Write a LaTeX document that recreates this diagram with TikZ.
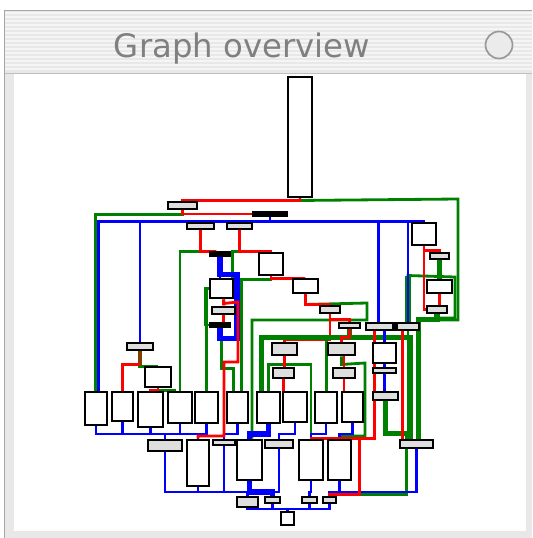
\documentclass[tikz,border=0pt]{standalone}
\usepackage{fontspec}
\newfontfamily\titlefont{DejaVu Sans}
\usepackage{tikz}
\usetikzlibrary{fit, backgrounds}
\pgfdeclarelayer{edges}
\pgfsetlayers{background,edges,main}
\definecolor{edgered}{RGB}{255,0,0}
\definecolor{edgegreen}{RGB}{0,128,0}
\definecolor{edgeblue}{RGB}{0,0,255}

\begin{document}
\begin{tikzpicture}[x=0.05cm, y=-0.05cm,
    blk/.style={draw=black, line width=4.2pt, fill=white, inner sep=0pt},
    sblk/.style={blk, fill=black!13},
    bar/.style={blk, fill=black},
    re/.style={draw=edgered, line width=4pt},
    ge/.style={draw=edgegreen, line width=4pt},
    be/.style={draw=edgeblue, line width=4pt},
    fat/.style={line width=7.5pt}]
  \useasboundingbox (0,0) rectangle (532,538);

  % window frame
  \begin{scope}[on background layer]
    \fill[white] (0,0) rectangle (532,538);
    \fill[black!9] (4,10) rectangle (532,538);
    \foreach \s in {12,16,...,68} \fill[black!4] (5,\s) rectangle (532,\s+2);
    \draw[black!35, line width=1.4pt] (4.5,538) -- (4.5,10.5) -- (532,10.5);
    \draw[black!25, line width=1.4pt] (5,73) -- (532,73);
    \fill[white] (14,74) rectangle (526,531);
  \end{scope}
  \node[text=black!50, font=\titlefont\fontsize{46}{50}\selectfont, anchor=base] (title) at (242,58) {Graph overview};
  \node[circle, draw=black!40, fill=black!8, line width=2.4pt, minimum size=1.35cm] (btn) at (499,45) {};

  % blocks
  \node[blk, fit={(288,77) (312,197)}] (top) {};
  \node[sblk, fit={(168,202) (197,209)}] (a) {};
  \node[bar, fit={(253,212) (287,216)}] (bar1) {};
  \node[sblk, fit={(187,223) (214,229)}] (b) {};
  \node[sblk, fit={(227,223) (252,229)}] (c) {};
  \node[bar, fit={(210,252) (230,256)}] (bar2) {};
  \node[blk, fit={(259,253) (283,275)}] (d) {};
  \node[blk, fit={(210,279) (233,298)}] (e) {};
  \node[sblk, fit={(212,307) (235,314)}] (f) {};
  \node[bar, fit={(210,323) (230,327)}] (bar3) {};
  \node[sblk, fit={(127,343) (153,350)}] (h) {};
  \node[blk, fit={(145,367) (171,387)}] (z) {};
  \node[blk, fit={(412,223) (436,245)}] (i) {};
  \node[sblk, fit={(430,253) (449,259)}] (j) {};
  \node[blk, fit={(427,280) (452,293)}] (k) {};
  \node[sblk, fit={(427,306) (447,313)}] (l) {};
  \node[blk, fit={(293,279) (318,293)}] (m) {};
  \node[sblk, fit={(320,306) (340,313)}] (n) {};
  \node[sblk, fit={(339,323) (360,328)}] (o) {};
  \node[sblk, fit={(366,323) (393,330)}] (p) {};
  \node[bar, fit={(393,323) (397,330)}] (pq) {};
  \node[sblk, fit={(397,323) (419,330)}] (q) {};
  \node[sblk, fit={(272,343) (297,355)}] (r) {};
  \node[sblk, fit={(328,343) (355,355)}] (s) {};
  \node[blk, fit={(373,343) (396,363)}] (t) {};
  \node[sblk, fit={(273,368) (294,378)}] (u) {};
  \node[sblk, fit={(333,368) (355,378)}] (v) {};
  \node[sblk, fit={(373,368) (396,373)}] (w) {};
  \node[sblk, fit={(373,392) (398,400)}] (xb) {};
  \node[blk, fit={(85,392) (107,425)}] (t1) {};
  \node[blk, fit={(112,392) (133,421)}] (t2) {};
  \node[blk, fit={(138,392) (163,427)}] (t3) {};
  \node[blk, fit={(168,392) (192,423)}] (t4) {};
  \node[blk, fit={(195,392) (218,423)}] (t5) {};
  \node[blk, fit={(227,392) (248,423)}] (t6) {};
  \node[blk, fit={(257,392) (280,423)}] (t7) {};
  \node[blk, fit={(283,392) (307,422)}] (t8) {};
  \node[blk, fit={(315,392) (337,423)}] (t9) {};
  \node[blk, fit={(342,392) (363,422)}] (t10) {};
  \node[sblk, fit={(148,440) (182,451)}] (l1) {};
  \node[blk, fit={(187,440) (209,486)}] (l2) {};
  \node[sblk, fit={(213,440) (235,445)}] (l3) {};
  \node[blk, fit={(237,440) (262,480)}] (l4) {};
  \node[sblk, fit={(265,440) (293,448)}] (l5) {};
  \node[blk, fit={(299,440) (323,480)}] (l6) {};
  \node[blk, fit={(328,440) (351,480)}] (l7) {};
  \node[sblk, fit={(400,440) (433,448)}] (yb) {};
  \node[sblk, fit={(237,497) (258,507)}] (b1) {};
  \node[sblk, fit={(265,497) (280,503)}] (b2) {};
  \node[sblk, fit={(302,497) (317,503)}] (b3) {};
  \node[sblk, fit={(323,497) (336,503)}] (b4) {};
  \node[blk, fit={(281,512) (294,525)}] (b5) {};

  \coordinate (bus) at (0,434);
  \coordinate (lowbus) at (0,492);
  \coordinate (botbus) at (0,509);

  \begin{pgfonlayer}{edges}
  \draw[re] (n.south) -- ++(0,25) -| (r.north);
  % green edges
  \draw[ge] (top.south) -- ++(0,2) -- (458,199) -- (458,320) -| (l.south);
  \draw[ge] (a.south) -- ++(0,4) -| ([xshift=-1]t1.north);
  \draw[ge] (b.south) -- ++(0,21) -| (t4.north);
  \draw[ge] (c.south) -- ++(0,21) -- ++(-7,0) -- ++(0,28) -| ([xshift=6]t6.north);
  \draw[ge] (d.south) -- ++(0,3) -| ([xshift=6]t6.north);
  \draw[ge] (e.west) -- ++(-3,0) |- (bar3.west);
  \draw[ge] (e.west) -- ++(-3,0) -| (t5.north);
  \draw[ge] ([xshift=2]bar3.south) -- ++(0,40) -| ([xshift=-6]t6.north);
  \draw[ge, line width=5.5pt] (h.south) -- ++(0,15) -| (z.north);
  \draw[ge] (z.south) -- ++(0,2) -| ([xshift=-8]t4.north);
  \draw[ge, fat] (j.south) -- (j.south |- k.north);
  \draw[ge] (q.north) -- ++(0,-46) -- (455,277) -- (455,318) -| (l.south);
  \draw[ge, fat] (q.north) -- ++(0,-46);
  \draw[ge, fat] (l.south) -- ++(0,5) -| ([xshift=3]yb.north);
  \draw[ge] (q.south) -- (q.south |- yb.north);
  \draw[ge] (m.south) -- ++(0,10) -- (367,303) -- (367,320) -| ([xshift=3.5]l4.north);
  \draw[ge, fat] (o.south) -- ++(0,8) -| ([xshift=-10]t7.north);
  \draw[ge, fat] (o.south) -- ++(0,8) -| ([xshift=-9]yb.north);
  \draw[ge] (o.south) -- ++(0,8) -| ([xshift=1]t9.north);
  \draw[ge] (r.south) -- ++(0,8) -| (t7.north);
  \draw[ge] (r.south) -- ++(0,8) -| (l6.north);
  \draw[ge] (s.south) -- ++(0,8) -- (365,363) -- (365,436) -| (l7.north);
  \draw[ge, fat] (xb.south) -- ++(0,32) -| ([xshift=-12]yb.north);
  \draw[ge] ([xshift=-14]yb.south) -- ++(0,45) -| ([xshift=3]b4.north);
  % blue edges
  \draw[be] (bar1.south) -- ++(0,4) -| ([xshift=3]t1.north);
  \draw[be] (bar1.south) -- ++(0,4) -| (h.north);
  \draw[be] (bar1.south) -- ++(0,4) -| (i.north);
  \draw[be] (bar1.south) -- ++(0,4) -| ([xshift=-1]p.north);
  \draw[be] (bar1.south) -- ++(0,4) -| (q.north);
  \draw[be] (bar2.south) -- (bar2.south |- e.north);
  \draw[be, fat] (bar2.south) -- ++(0,17) -- ++(17,0) -- ++(0,64) -| (bar3.south);
  \draw[be] (t.north |- p.south) -- (t.north);
  \draw[be] (t.south) -- (t.south |- w.north);
  \draw[be] (w.south) -- (w.south |- xb.north);
  \draw[be] (t1.south) -- (t1.south |- bus) -| (l1.north);
  \draw[be] (t2.south) -- (t2.south |- bus) -| (l1.north);
  \draw[be] (t3.south) -- (t3.south |- bus) -| (l2.north);
  \draw[be] (t4.south) -- (t4.south |- bus) -| (l1.north);
  \draw[be] (t5.south) -- (t5.south |- bus) -| (l2.north);
  \draw[be] (t6.south) -- (t6.south |- bus) -| (l3.north);
  \draw[be, fat] (t7.south) -- (t7.south |- bus) -| (l4.north);
  \draw[be] (t8.south) -- (t8.south |- bus) -| (l5.north);
  \draw[be] (t9.south) -- (t9.south |- bus) -| (l6.north);
  \draw[be] (t10.south) -- (t10.south |- bus) -| (l7.north);
  \draw[be] (l1.south) -- (l1.south |- lowbus) -| (b1.north);
  \draw[be] (l2.south) -- (l2.south |- lowbus) -| (b1.north);
  \draw[be] (l3.south) -- (l3.south |- lowbus) -| (b1.north);
  \draw[be, fat] (l4.south) -- (l4.south |- lowbus) -| (b2.north);
  \draw[be] (l5.south) -- (l5.south |- lowbus) -| (b2.north);
  \draw[be] (l6.south) -- (l6.south |- lowbus) -| (b3.north);
  \draw[be] (l7.south) -- (l7.south |- lowbus) -| (b4.north);
  \draw[be] (yb.south) -- (yb.south |- lowbus) -| (b4.north);
  \draw[be] (b1.south) -- (b1.south |- botbus) -| (b5.north);
  \draw[be] (b2.south) -- (b2.south |- botbus) -| (b5.north);
  \draw[be] (b3.south) -- (b3.south |- botbus) -| (b5.north);
  \draw[be] (b4.south) -- (b4.south |- botbus) -| (b5.north);
  % red edges
  \draw[re] (top.south) -- ++(0,2) -| (a.north);
  \draw[re] (a.south) |- (bar1.west);
  \draw[re] (b.south) -- ++(0,21) -| ([xshift=-5]bar2.north);
  \draw[re] (c.south) -- ++(0,21) -| (d.north);
  \draw[re] (d.south) -- ++(0,2) -| (m.north);
  \draw[re] ([xshift=3]e.south) -- ([xshift=1]f.north);
  \draw[re] ([xshift=3]e.south) -- ++(0,4) -- (238,302) -- (238,362) -- (224,362) -- (224,436) -| (l2.north);
  \draw[re] (f.south) -- (f.south |- bar3.north);
  \draw[re] (h.south) -- ++(0,13) -| (t2.north);
  \draw[re] (z.south) -- ++(0,2) -| (t3.north);
  \draw[re] (i.south) -- ++(0,4) -| (j.north);
  \draw[re] (i.south) |- (l.west);
  \draw[re] (k.south) -- (k.south |- l.north);
  \draw[re] ([xshift=-8]q.south) -- ([xshift=-8]q.south |- yb.north);
  \draw[re] (m.south) -- ++(0,10) -| (n.north);
  \draw[re] (n.south) -- ++(0,5) -| (o.north);
  \draw[re] (o.south) -- ++(0,8) -| (s.north);
  \draw[re] ([xshift=-7]p.south) -- ++(0,107) -| (l6.north);
  \draw[re] ([xshift=-7]p.south) -- ++(0,107) -- ++(-15,0) -- ++(0,56) -| (b4.north);
  \draw[re] (r.south) -- (r.south |- u.north);
  \draw[re] (u.south) -- (u.south |- t8.north);
  \draw[re] (v.north |- s.south) -- (v.north);
  \draw[re] (v.south) -- (v.south |- t10.north);
  \end{pgfonlayer}
\end{tikzpicture}
\end{document}
